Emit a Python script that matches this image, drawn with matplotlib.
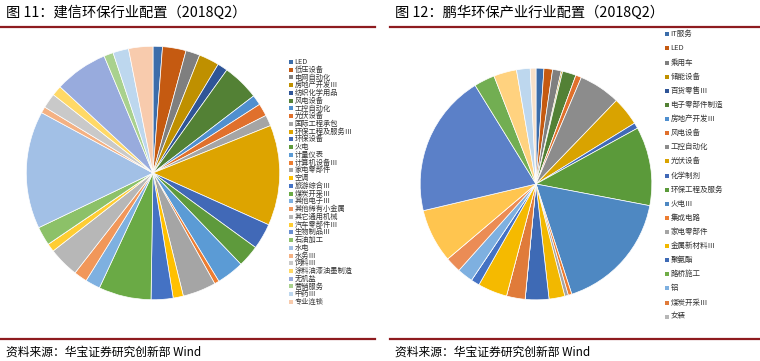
import matplotlib
matplotlib.use('Agg')
import matplotlib.pyplot as plt
from matplotlib.patches import Rectangle
from matplotlib.lines import Line2D

plt.rcParams['font.family'] = ['Noto Sans CJK SC', 'DejaVu Sans']

W, H = 760, 361

# ---------------- data ----------------
left_title = "图 11：建信环保行业配置（2018Q2）"
right_title = "图 12：鹏华环保产业行业配置（2018Q2）"
source_text = "资料来源：华宝证券研究创新部 Wind"

left_cats = ["LED", "低压设备", "电网自动化", "房地产开发Ⅲ", "纺织化学用品", "风电设备",
             "工控自动化", "光伏设备", "国际工程承包", "环保工程及服务Ⅲ", "环保设备", "火电",
             "计量仪表", "计算机设备Ⅲ", "家电零部件", "空调", "旅游综合Ⅲ", "煤炭开采Ⅲ",
             "其他电子Ⅲ", "其他稀有小金属", "其它通用机械", "汽车零部件Ⅲ", "生物制品Ⅲ", "石油加工",
             "水电", "水务Ⅲ", "饲料Ⅲ", "涂料油漆油墨制造", "无机盐", "营销服务", "中药Ⅲ", "专业连锁"]
left_vals = [1.2, 3.0, 1.8, 2.6, 1.3, 4.7, 1.3, 1.6, 1.4, 12.8, 3.3, 2.8,
             3.5, 0.6, 4.25, 1.3, 2.8, 6.7, 1.9, 1.7, 3.9, 1.05, 0.0, 2.4,
             15.0, 0.8, 1.9, 1.3, 6.8, 1.2, 2.0, 3.1]
left_colors = ["#3C6DAA", "#C55A11", "#7F7F7F", "#BF9000", "#2F5597", "#538135",
               "#4F8FCF", "#E0702C", "#A5A5A5", "#DDA400", "#4169B7", "#5E9A3C",
               "#5B9BD5", "#ED7D31", "#A5A5A5", "#FFC000", "#4472C4", "#6AAA45",
               "#7EB0E0", "#F1975A", "#B7B7B7", "#FFCD33", "#698ED0", "#8CC168",
               "#A2C0E6", "#F4B183", "#C9C9C9", "#FFD966", "#98ABDD", "#A9D18E",
               "#BDD7EE", "#F8CBAD"]

right_cats = ["IT服务", "LED", "乘用车", "储能设备", "百货零售Ⅲ", "电子零部件制造",
              "房地产开发Ⅲ", "风电设备", "工控自动化", "光伏设备", "化学制剂", "环保工程及服务",
              "火电Ⅲ", "集成电路", "家电零部件", "金属新材料Ⅲ", "聚氨酯", "路桥施工",
              "铝", "煤炭开采Ⅲ", "女装",
              "未列示1", "未列示2", "未列示3", "未列示4", "未列示5", "未列示6",
              "未列示7", "未列示8", "未列示9", "未列示10", "未列示11", "未列示12"]
right_vals = [1.1, 1.2, 1.2, 0.2, 0.0, 1.9, 0.0, 0.8, 5.8, 4.0, 0.8, 11.0,
              17.0, 0.5, 0.5, 2.2, 3.3, 0.0, 0.0, 2.6, 0.0,
              4.1, 1.2, 0.0, 2.2, 2.2, 0.0, 7.5, 19.9, 2.9, 3.2, 1.9, 0.8]
right_colors = ["#3C6DAA", "#C55A11", "#7F7F7F", "#BF9000", "#2F5597", "#538135",
                "#4F8FCF", "#E0702C", "#8C8C8C", "#D9A300", "#4169B7", "#5B9A3A",
                "#4E88C2", "#ED7D31", "#A5A5A5", "#F2B800", "#3E6AB5", "#70AD47",
                "#7EB0E0", "#E07B3A", "#B7B7B7",
                "#F5BA00", "#4472C4", "#8CC168", "#7EB0E0", "#EB8C55", "#C9C9C9",
                "#FFC54F", "#5B80C8", "#72AE52", "#FFD27F", "#BDD7EE", "#F8E0C8"]
right_legend_n = 21

# ---------------- figure ----------------
fig = plt.figure(figsize=(W / 100, H / 100), dpi=100)
fig.patch.set_facecolor("white")


def fx(px):
    return px / W


def fy(py):
    return 1 - py / H


def add_pie(cx, cy, r, vals, cols):
    ax = fig.add_axes([fx(cx - r), fy(cy + r), 2 * r / W, 2 * r / H])
    ax.pie(vals, colors=cols, startangle=90, counterclock=False,
           wedgeprops=dict(edgecolor="white", linewidth=0.5))
    ax.set_xlim(-1.01, 1.01)
    ax.set_ylim(-1.01, 1.01)
    ax.set_aspect("equal")
    ax.axis("off")
    return ax


add_pie(153, 173, 128, left_vals, left_colors)
add_pie(536, 184, 117, right_vals, right_colors)


def add_legend(x_mark, y0, dy, names, cols, fs):
    for i, (n, c) in enumerate(zip(names, cols)):
        y = y0 + i * dy
        fig.add_artist(Rectangle((fx(x_mark - 2), fy(y + 2)), 4 / W, 4 / H,
                                 transform=fig.transFigure, facecolor=c, edgecolor="none"))
        fig.text(fx(x_mark + 3.5), fy(y), n, fontsize=fs, color="#333333",
                 va="center", ha="left")


add_legend(291, 62, 7.74, left_cats, left_colors, 5.2)
add_legend(667, 34.3, 14.12, right_cats[:right_legend_n], right_colors[:right_legend_n], 5.4)

# titles
fig.text(fx(6), fy(13), left_title, fontsize=10.3, color="black", va="center", ha="left",
         weight="medium")
fig.text(fx(395), fy(13), right_title, fontsize=10.3, color="black", va="center", ha="left",
         weight="medium")

# red rules
red = "#8E1B1F"
for x0, x1 in [(0, 375), (390, 760)]:
    for yy in (26.5, 338.5):
        fig.add_artist(Line2D([fx(x0), fx(x1)], [fy(yy), fy(yy)], color=red,
                              linewidth=1.6, transform=fig.transFigure))

# sources
fig.text(fx(6), fy(352), source_text, fontsize=8.5, color="black", va="center", ha="left")
fig.text(fx(395), fy(352), source_text, fontsize=8.5, color="black", va="center", ha="left")

fig.savefig("out.png", dpi=100, facecolor="white")
